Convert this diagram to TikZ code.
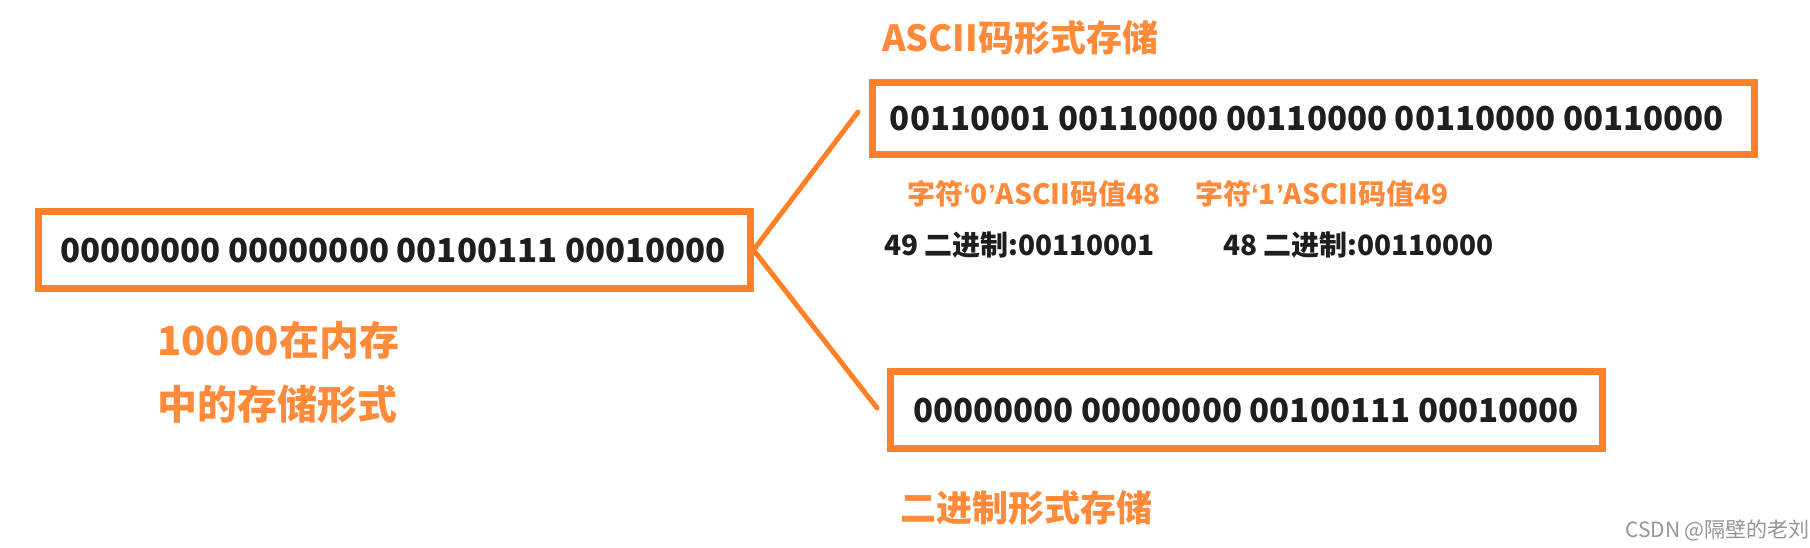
\documentclass[tikz,border=0pt]{standalone}
\usepackage{fontspec}
\setmainfont{Noto Sans CJK SC}
\newfontfamily\quotefont{Liberation Sans}
\definecolor{boxorange}{RGB}{255,128,38}
\definecolor{txtorange}{RGB}{255,138,58}
\definecolor{txtblack}{RGB}{30,30,30}
\definecolor{wmgray}{RGB}{150,150,150}
\newcommand{\fs}[1]{\fontsize{#1}{#1}\selectfont}
\newcommand{\myLq}{{\quotefont\bfseries ‘}}
\newcommand{\myRq}{{\quotefont\bfseries ’}}
\begin{document}
\begin{tikzpicture}[x=1pt,y=-1pt,
  obox/.style={draw=boxorange,line width=7pt,inner sep=0pt,fill=white},
  bintext/.style={text=txtblack,font=\bfseries\fs{33},inner sep=0pt},
  olabel/.style={text=txtorange,font=\bfseries\fs{36},inner sep=0pt,anchor=west},
  blabel/.style={text=txtblack,font=\bfseries\fs{28},inner sep=0pt,anchor=west},
  slabel/.style={text=txtorange,font=\bfseries\fs{28},inner sep=0pt,anchor=west},
  link/.style={draw=boxorange,line width=5pt,line cap=round}]
\useasboundingbox[fill=white] (0,0) rectangle (1810,548);
% boxes
\node[obox,minimum width=712pt,minimum height=77pt] (mem) at (394,250) {};
\node[obox,minimum width=882pt,minimum height=72pt] (ascii) at (1313,118.5) {};
\node[obox,minimum width=712pt,minimum height=77pt] (bin) at (1246,410) {};
% connectors
\coordinate (topend) at (858,112);
\coordinate (botend) at (877,408);
\draw[link] (mem.east) -- (topend);
\draw[link] (mem.east) -- (botend);
% box texts
\node[bintext] (memtxt) at (393,251) {00000000 00000000 00100111 00010000};
\node[bintext] (asciitxt) at (1307,119) {00110001 00110000 00110000 00110000 00110000};
\node[bintext] (bintxt) at (1246,411) {00000000 00000000 00100111 00010000};
% labels
\node[olabel] (asciititle) at (882,38) {ASCII码形式存储};
\node[olabel] (bintitle) at (900,508) {二进制形式存储};
\node[olabel,font=\bfseries\fs{40}] (memtitle1) at (157,340) {10000在内存};
\node[olabel,font=\bfseries\fs{40}] (memtitle2) at (157,404) {中的存储形式};
\node[slabel] (c0) at (907,194) {字符\myLq 0\myRq ASCII码值48};
\node[slabel] (c1) at (1195,194) {字符\myLq 1\myRq ASCII码值49};
\node[blabel] (b49) at (884,245) {49 二进制:00110001};
\node[blabel] (b48) at (1223,245) {48 二进制:00110000};
\node[text=wmgray,font=\fs{21},inner sep=0pt,anchor=west] (wm) at (1625,530) {CSDN @隔壁的老刘};
\end{tikzpicture}
\end{document}
